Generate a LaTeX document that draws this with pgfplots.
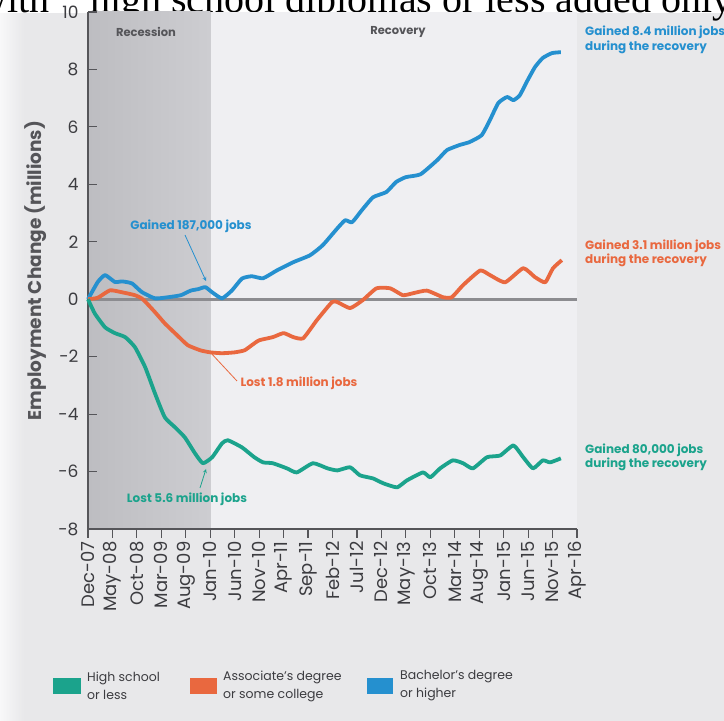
\documentclass[border=0pt]{standalone}
\usepackage{fontspec}
\setmainfont{Poppins}
\newfontfamily\serif{Liberation Serif}
\usepackage{pgfplots}
\pgfplotsset{compat=1.18}
\definecolor{bgc}{HTML}{E8E8EA}
\definecolor{recov}{HTML}{EFEFF2}
\definecolor{recA}{HTML}{BDBDC1}
\definecolor{recB}{HTML}{CDCDD1}
\definecolor{axc}{HTML}{555559}
\definecolor{txt}{HTML}{3C3C40}
\definecolor{zl}{HTML}{8C8C90}
\definecolor{hs}{HTML}{1BA38C}
\definecolor{as}{HTML}{E9683F}
\definecolor{ba}{HTML}{2590CF}
\newcommand{\fs}[1]{\fontsize{#1}{#1}\selectfont}
\begin{document}
\begin{tikzpicture}[x=1pt,y=1pt]
% page and panels
\fill[bgc] (0,0) rectangle (724,721);
\fill[left color=white!70!bgc, right color=bgc] (0,0) rectangle (24,708);
\fill[white] (0,708) rectangle (724,721);
\node[anchor=base east, inner sep=0, font=\serif\fs{40}] at (50,708) {with};
\node[anchor=base west, inner sep=0, font=\serif\fs{40}] at (90,708) {high school diplomas or less added only};
% recession / recovery background
\fill[recov] (210.25,192) rectangle (577,709);
\shade[left color=recA, right color=recB] (88,192) rectangle (210.25,709);
\node[font=\bfseries\fs{11.5}, text=axc] at (146,689) {Recession};
\node[font=\bfseries\fs{11.5}, text=axc] at (398,689) {Recovery};

\begin{axis}[
    scale only axis,
    width=489pt, height=517pt,
    at={(88pt,192pt)}, anchor=south west,
    xmin=0, xmax=100, ymin=-8, ymax=10,
    axis x line=bottom, axis y line=left,
    axis line style={draw=axc, line width=1.4pt, -},
    xtick={0,5,...,100},
    xticklabels={Dec-07,May-08,Oct-08,Mar-09,Aug-09,Jan-10,Jun-10,Nov-10,Apr-11,Sep-11,Feb-12,Jul-12,Dec-12,May-13,Oct-13,Mar-14,Aug-14,Jan-15,Jun-15,Nov-15,Apr-16},
    ytick={-8,-6,...,10},
    xtick align=outside, ytick align=inside,
    major tick length=9pt,
    tick style={draw=axc, line width=1.2pt},
    x tick label style={rotate=90, anchor=east, font=\fs{18}, text=txt},
    y tick label style={font=\fs{17}, text=txt, xshift=-6pt},
    /pgf/number format/assume math mode=true,
    ylabel={Employment Change (millions)},
    ylabel style={font=\bfseries\fs{18.5}, text=axc},
    ylabel shift=5pt,
    clip=false,
]
\draw[zl, line width=3pt] (axis cs:0,0) -- (axis cs:100,0);
% Bachelor's degree or higher
\addplot[ba, line width=3.8pt, line join=round, smooth, tension=0.3] coordinates {
(0,0) (2,0.6) (3.5,0.84) (5.5,0.6) (7,0.62) (9,0.55) (11,0.25) (13.7,0.03)
(16.4,0.07) (19,0.14) (21,0.3) (22.5,0.35) (24,0.42) (25.4,0.24) (27.4,0.03)
(29.4,0.3) (31.5,0.72) (33.5,0.8) (35.8,0.73) (38.6,1.0) (42,1.29) (45.4,1.53)
(48,1.88) (51,2.47) (52.6,2.75) (54,2.68) (56,3.1) (58.3,3.55) (61,3.73)
(63,4.08) (65,4.25) (68,4.35) (71.4,4.84) (73.4,5.19) (76,5.37) (78,5.47)
(80.5,5.71) (82.2,6.24) (83.9,6.83) (85.7,7.04) (87,6.93) (88.3,7.1)
(89.7,7.56) (91.4,8.08) (93,8.4) (94.9,8.57) (96.7,8.6)
};
% Associate's degree or some college
\addplot[as, line width=3.8pt, line join=round, smooth, tension=0.3] coordinates {
(0,0) (2,0.05) (4.5,0.31) (7,0.24) (9.6,0.14) (11.2,0) (13.7,-0.45) (15.7,-0.84)
(18.2,-1.25) (20.4,-1.6) (23,-1.78) (25,-1.85) (27.4,-1.88) (30,-1.85) (32,-1.78)
(33.5,-1.6) (35,-1.43) (37.8,-1.32) (40,-1.18) (42,-1.32) (44,-1.36) (46.8,-0.73)
(49.9,-0.1) (51,-0.1) (53.6,-0.31) (56.2,-0.03) (59,0.38) (61.8,0.38) (64.4,0.14)
(66.5,0.21) (69.3,0.3) (72.6,0.07) (74.4,0.07) (76.7,0.49) (80.2,1.0) (82.2,0.84)
(85.3,0.59) (89,1.08) (91.4,0.77) (93.5,0.59) (95.1,1.08) (96.9,1.36)
};
% High school or less
\addplot[hs, line width=3.8pt, line join=round, smooth, tension=0.3] coordinates {
(0,0) (1.4,-0.5) (3.5,-0.98) (5.5,-1.18) (7.6,-1.32) (9.6,-1.67) (11.7,-2.37)
(13.7,-3.28) (15.7,-4.11) (17.8,-4.46) (19.8,-4.81) (21.9,-5.37) (23.5,-5.71)
(25.4,-5.5) (27.4,-5.02) (28.6,-4.91) (31.5,-5.16) (34,-5.5) (35.8,-5.68)
(37.8,-5.71) (40.7,-5.89) (42.7,-6.03) (46,-5.71) (49,-5.89) (51,-5.96)
(53.6,-5.85) (55.6,-6.13) (58.3,-6.24) (60.4,-6.41) (63.2,-6.55) (65.2,-6.31)
(68.5,-6.03) (70,-6.2) (72,-5.89) (74.6,-5.61) (76.7,-5.71) (78.7,-5.89)
(81.6,-5.5) (84.3,-5.44) (87,-5.09) (89,-5.5) (91,-5.89) (93,-5.61) (94.5,-5.68)
(96.7,-5.54)
};
\end{axis}

% callouts
\node[font=\bfseries\fs{12}, text=ba] at (191,495) {Gained 187,000 jobs};
\draw[ba, line width=0.8pt, -stealth] (185,486) -- (206,440);
\draw[as, line width=0.8pt] (210,369) -- (237,340);
\node[anchor=west, font=\bfseries\fs{12}, text=as] at (237,338) {Lost 1.8 million jobs};
\node[font=\bfseries\fs{12}, text=hs] at (187,222) {Lost 5.6 million jobs};
\draw[hs, line width=0.8pt, -stealth] (200,233) -- (206,252);
\tikzset{side/.style={anchor=west, align=left, inner sep=0, font=\bfseries\fontsize{12}{14.5}\selectfont}}
\node[side, text=ba] at (585,681) {Gained 8.4 million jobs\\during the recovery};
\node[side, text=as] at (585,467.5) {Gained 3.1 million jobs\\during the recovery};
\node[side, text=hs] at (585,263.5) {Gained 80,000 jobs\\during the recovery};

% legend
\tikzset{leg/.style={anchor=west, align=left, inner sep=0, font=\fontsize{12.5}{18}\selectfont, text=txt}}
\fill[hs] (53,27) rectangle (81,43);
\node[leg] at (87,35) {High school\\or less};
\fill[as] (190,27) rectangle (217,43);
\node[leg] at (223,35) {Associate's degree\\or some college};
\fill[ba] (367,27) rectangle (393,43);
\node[leg] at (400,35) {Bachelor's degree\\or higher};

\pgfresetboundingbox
\useasboundingbox (0,0) rectangle (724,721);
\end{tikzpicture}
\end{document}
